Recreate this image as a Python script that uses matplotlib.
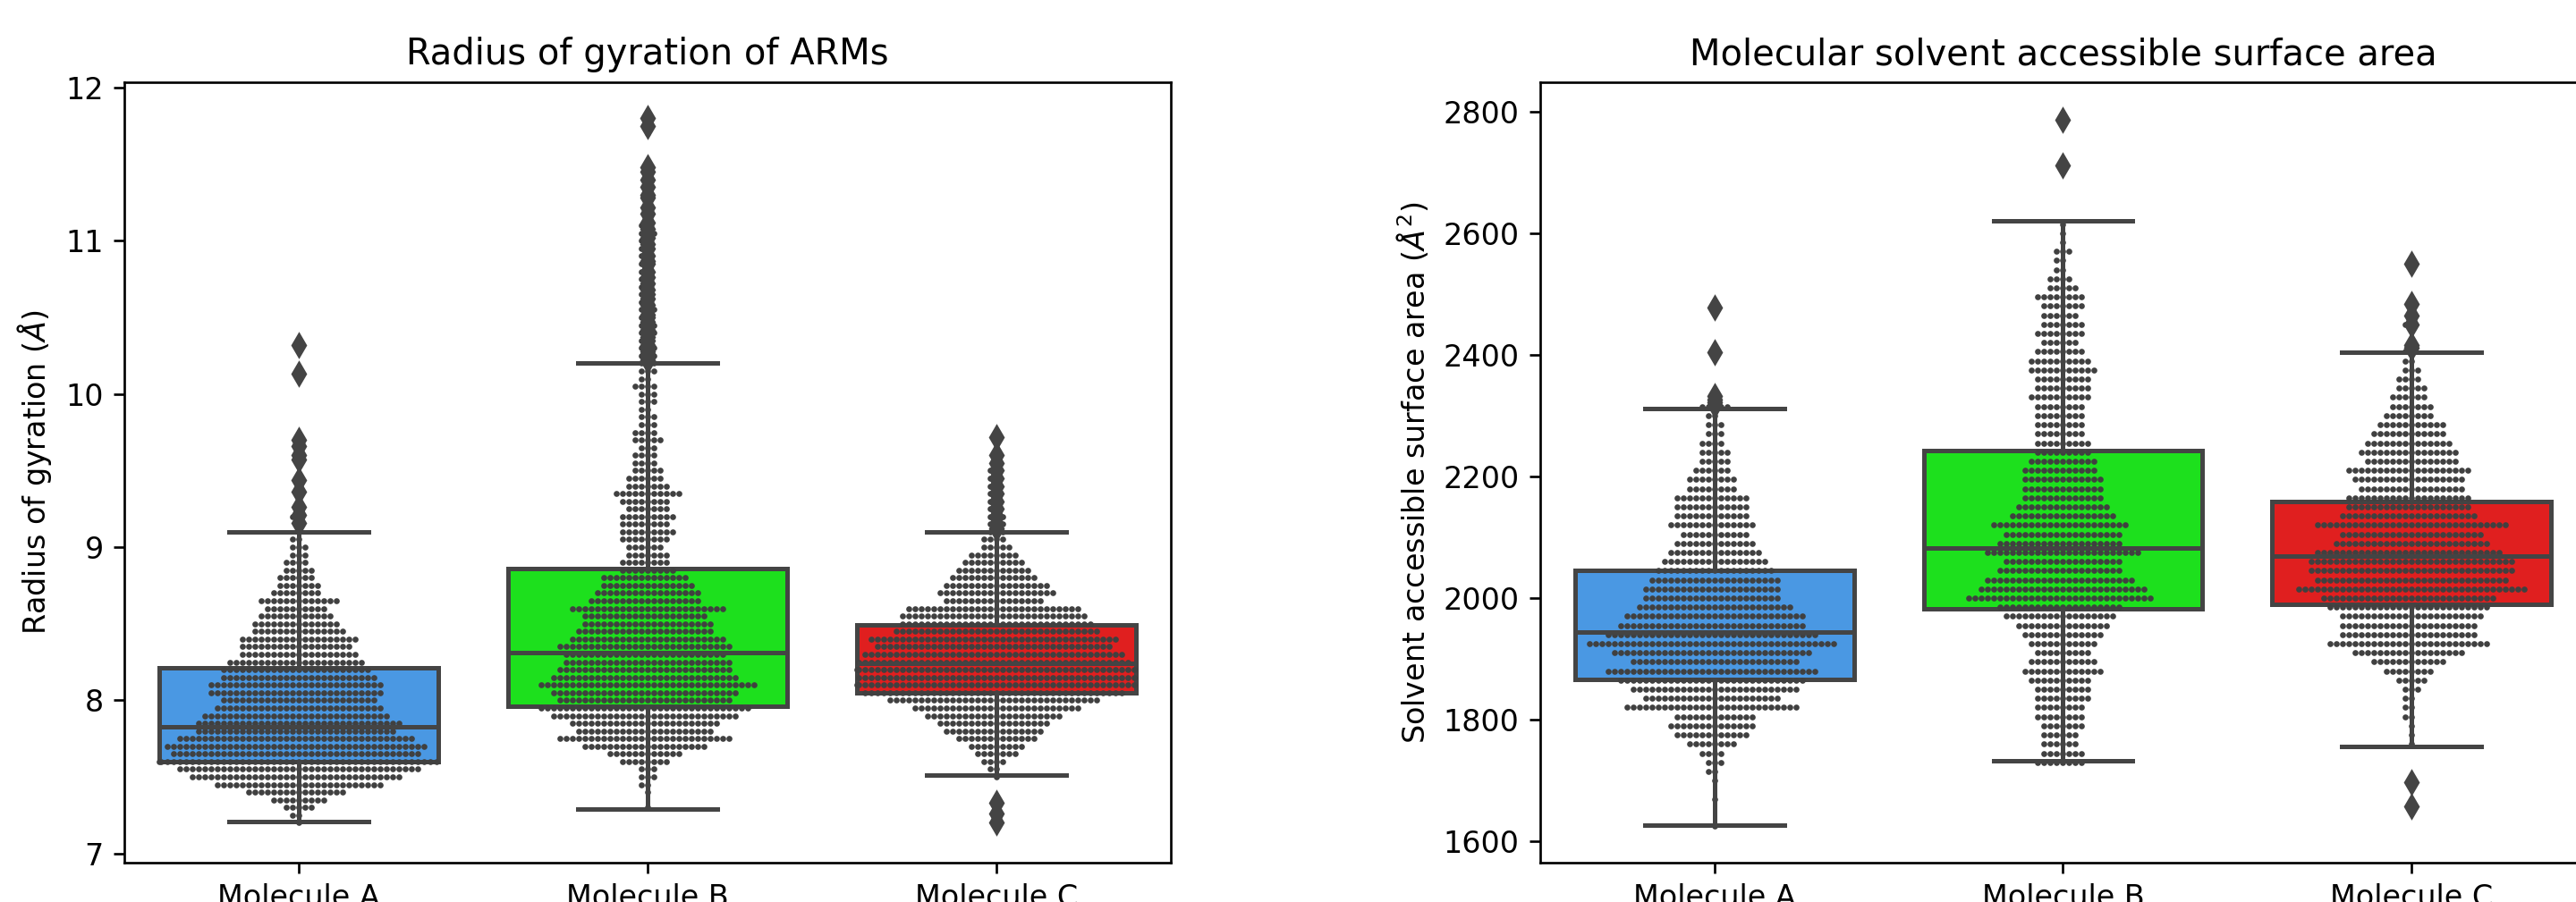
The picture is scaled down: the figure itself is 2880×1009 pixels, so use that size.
import numpy as np
import pandas as pd
import matplotlib
matplotlib.use('Agg')
import matplotlib.pyplot as plt
import seaborn as sns

names = ['Molecule A', 'Molecule B', 'Molecule C']
colors = ['#4a98e3', '#1de01d', '#e01f1f']

# --- radius of gyration: swarm read as dots per row on a 0.05 grid ---
rg_step = 0.05
rg_start = [7.20, 7.30, 7.20]
rg_counts_a = [1, 2, 5, 9, 16, 27, 34, 39, 46, 40, 42, 38, 32, 33, 30, 27, 25, 28, 28, 25,
               24, 22, 19, 18, 19, 15, 14, 12, 10, 13, 8, 7, 6, 5, 4, 3, 3, 2, 1, 1,
               2, 1, 0, 1, 1, 1, 0, 1, 1, 1, 1, 0, 0, 0, 0, 0, 0, 0, 0, 1,
               0, 0, 1]
rg_counts_b = [1, 0, 1, 2, 3, 3, 8, 12, 20, 28, 22, 24, 30, 34, 28, 30, 35, 30, 28, 27,
               26, 28, 25, 22, 21, 20, 25, 18, 17, 15, 14, 9, 8, 7, 6, 8, 9, 8, 9, 7,
               8, 11, 7, 6, 5, 4, 4, 3, 5, 4, 3, 3, 2, 3, 3, 4, 2, 3, 3, 3,
               3, 2, 3, 3, 2, 3, 2, 2, 2, 2, 2, 2, 2, 2, 2, 3, 2, 1, 1, 1,
               1, 1, 1, 1, 0, 0, 0, 0, 1, 1]
rg_counts_c = [1, 1, 1, 0, 0, 0, 1, 2, 4, 7, 9, 13, 16, 18, 22, 27, 34, 42, 46, 45,
               46, 44, 42, 38, 40, 33, 31, 30, 28, 16, 19, 17, 14, 12, 10, 8, 5, 4, 3, 3,
               3, 2, 2, 2, 2, 2, 2, 1, 1, 1]
rg_counts = [rg_counts_a, rg_counts_b, rg_counts_c]

rg_q1 = [7.60, 7.96, 8.05]
rg_med = [7.83, 8.31, 8.24]
rg_q3 = [8.21, 8.86, 8.49]
rg_whislo = [7.21, 7.29, 7.51]
rg_whishi = [9.10, 10.20, 9.10]
rg_fliers_a = [10.32, 10.13, 9.70, 9.66, 9.60, 9.57, 9.44, 9.36, 9.26, 9.21, 9.16]
rg_fliers_b = [11.80, 11.75, 11.48, 11.45, 11.40, 11.35, 11.30, 11.28, 11.22, 11.18,
               11.12, 11.08, 11.05, 11.02, 10.98, 10.95, 10.90, 10.87, 10.85, 10.80,
               10.76, 10.72, 10.68, 10.65, 10.62, 10.58, 10.55, 10.52, 10.50, 10.47,
               10.45, 10.42, 10.40, 10.37, 10.35, 10.32, 10.30, 10.28, 10.26, 10.24, 10.22]
rg_fliers_c = [9.72, 9.60, 9.55, 9.50, 9.45, 9.40, 9.35, 9.30, 9.25, 9.20, 9.15, 9.12,
               7.33, 7.26, 7.20]
rg_fliers = [rg_fliers_a, rg_fliers_b, rg_fliers_c]

# --- SASA: swarm read as dots per row on a 15 A^2 grid ---
sasa_step = 15
sasa_start = [1625, 1730, 1655]
sasa_counts_a = [1, 0, 0, 1, 0, 1, 2, 3, 4, 8, 12, 14, 13, 28, 22, 27, 30, 34, 27, 32,
                 40, 34, 30, 29, 25, 22, 22, 21, 19, 17, 15, 13, 11, 14, 12, 12, 12, 8, 8, 6,
                 5, 5, 4, 3, 3, 2, 5, 1, 0, 0, 0, 0, 1, 0, 0, 0, 0, 1]
sasa_counts_b = [8, 7, 6, 6, 7, 8, 8, 9, 9, 10, 13, 11, 9, 11, 13, 15, 18, 20, 30, 27,
                 24, 20, 19, 25, 20, 19, 22, 17, 15, 13, 13, 13, 12, 11, 9, 9, 8, 8, 8, 8,
                 10, 9, 9, 11, 10, 8, 6, 8, 7, 6, 7, 8, 5, 4, 2, 2, 3, 1, 1, 1,
                 0, 0, 0, 0, 0, 1, 0, 0, 0, 0, 1]
sasa_counts_c = [1, 0, 0, 1, 0, 0, 0, 1, 1, 1, 2, 2, 2, 3, 5, 8, 12, 18, 26, 22,
                 22, 23, 26, 28, 37, 31, 33, 33, 30, 25, 23, 31, 22, 20, 20, 17, 18, 20, 15, 16,
                 14, 12, 11, 8, 7, 6, 5, 4, 3, 2, 2, 1, 0, 2, 1, 1, 0, 0, 0, 1]
sasa_counts = [sasa_counts_a, sasa_counts_b, sasa_counts_c]

sasa_q1 = [1866, 1982, 1990]
sasa_med = [1944, 2083, 2069]
sasa_q3 = [2045, 2242, 2159]
sasa_whislo = [1627, 1733, 1756]
sasa_whishi = [2311, 2620, 2404]
sasa_fliers_a = [2478, 2404, 2332, 2327, 2322, 2318]
sasa_fliers_b = [2786, 2711]
sasa_fliers_c = [2549, 2483, 2464, 2450, 2416, 2412, 1698, 1657]
sasa_fliers = [sasa_fliers_a, sasa_fliers_b, sasa_fliers_c]

gray = '#444444'


def panel(ax, starts, step, counts, q1, med, q3, lo, hi, fliers,
          title, ylabel, ylim, yticks):
    stats = []
    for i in range(3):
        stats.append(dict(med=med[i], q1=q1[i], q3=q3[i], whislo=lo[i],
                          whishi=hi[i], fliers=fliers[i]))
    bp = ax.bxp(stats, positions=[0, 1, 2], widths=0.8, capwidths=0.4,
                patch_artist=True, manage_ticks=False, zorder=2,
                boxprops=dict(linewidth=1.5, edgecolor=gray),
                medianprops=dict(color=gray, linewidth=1.5),
                whiskerprops=dict(color=gray, linewidth=1.5),
                capprops=dict(color=gray, linewidth=1.5),
                flierprops=dict(marker='d', markersize=5, markerfacecolor=gray,
                                markeredgecolor=gray, linestyle='none'))
    for patch, c in zip(bp['boxes'], colors):
        patch.set_facecolor(c)
        patch.set_zorder(1)

    rows = []
    for i in range(3):
        levels = np.round(starts[i] + step * np.arange(len(counts[i])), 3)
        vals = np.repeat(levels, counts[i])
        rows.append(pd.DataFrame({'molecule': names[i], 'value': vals}))
    df = pd.concat(rows, ignore_index=True)
    sns.swarmplot(data=df, x='molecule', y='value', order=names, color='.25',
                  size=2.0, ax=ax, zorder=1.5)

    ax.set_xlim(-0.5, 2.5)
    ax.set_xticks([0, 1, 2])
    ax.set_xticklabels(names)
    ax.set_xlabel('')
    ax.set_ylim(*ylim)
    ax.set_yticks(yticks)
    ax.set_ylabel(ylabel)
    ax.set_title(title)


fig = plt.figure(figsize=(12, 1009 / 240), dpi=240)
ax1 = fig.add_axes([0.04826, 0.0436, 0.40625, 0.8652])
ax2 = fig.add_axes([0.5979, 0.0436, 0.4059, 0.8652])

panel(ax1, rg_start, rg_step, rg_counts, rg_q1, rg_med, rg_q3, rg_whislo, rg_whishi,
      rg_fliers, 'Radius of gyration of ARMs', r'Radius of gyration ($\AA$)',
      (6.94, 12.035), [7, 8, 9, 10, 11, 12])
panel(ax2, sasa_start, sasa_step, sasa_counts, sasa_q1, sasa_med, sasa_q3, sasa_whislo,
      sasa_whishi, sasa_fliers, 'Molecular solvent accessible surface area',
      r'Solvent accessible surface area ($\AA^2$)',
      (1565, 2848), [1600, 1800, 2000, 2200, 2400, 2600, 2800])

fig.savefig('out.png', dpi=240)
